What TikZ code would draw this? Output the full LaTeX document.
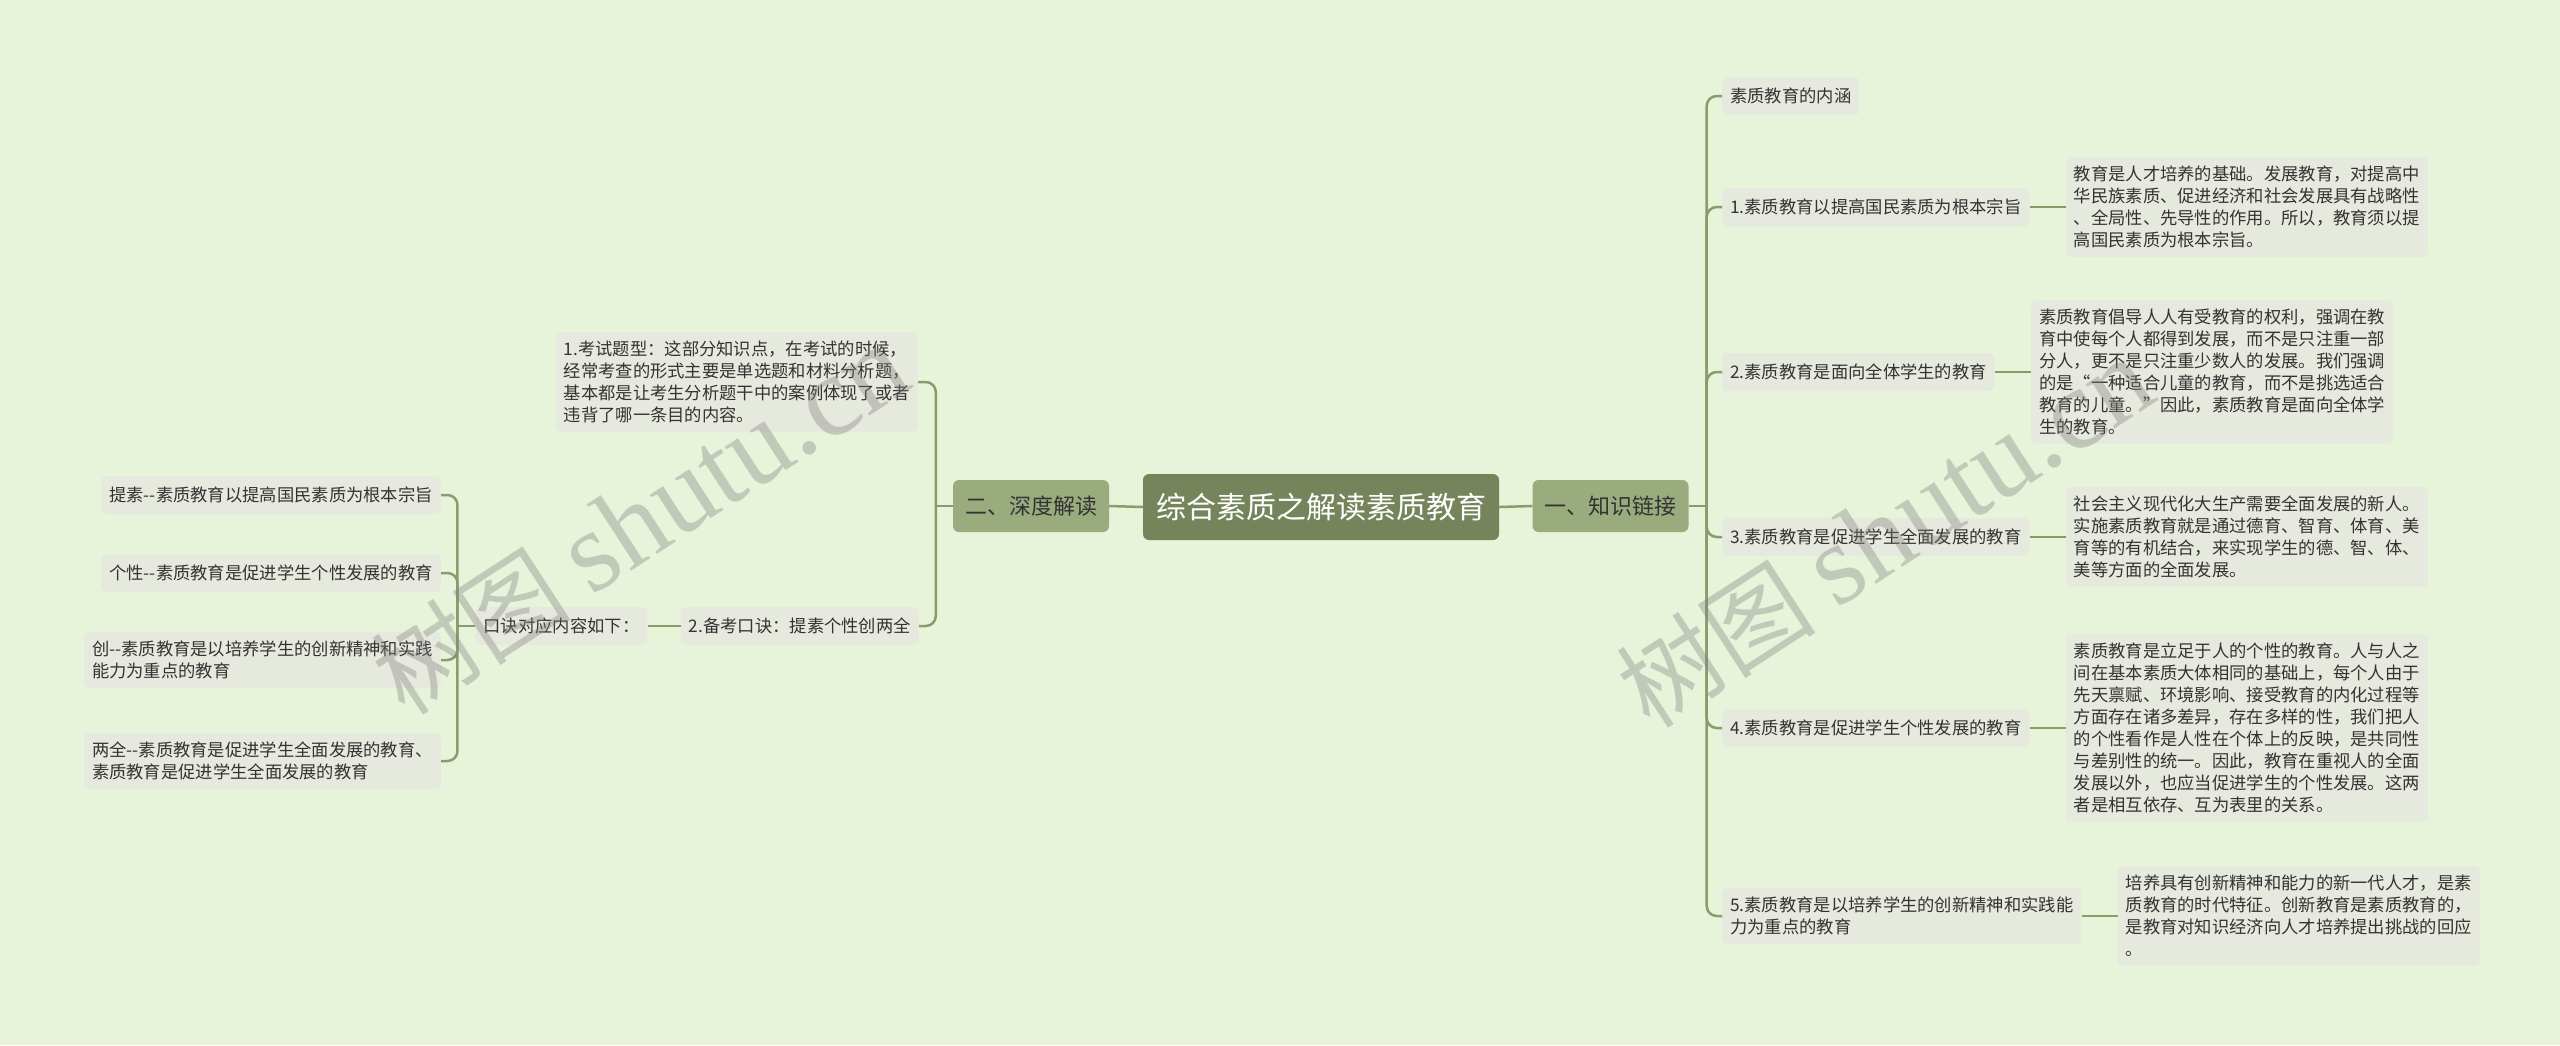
\documentclass[tikz,border=0pt]{standalone}
\usepackage{fontspec}
\setmainfont{Noto Sans CJK SC}[Ligatures=TeXOff]
\newfontfamily\wmlatin{Liberation Serif}
\usetikzlibrary{calc}
\definecolor{bgc}{HTML}{E7F4DA}
\definecolor{leafc}{HTML}{E6E9DD}
\definecolor{lvlc}{HTML}{9AAB7E}
\definecolor{rootc}{HTML}{75845A}
\definecolor{connc}{HTML}{8B9B6C}
\definecolor{txtc}{HTML}{333333}
\definecolor{wmc}{HTML}{808080}
\tikzset{
  leaf/.style={fill=leafc, rounded corners=5pt, inner xsep=8pt, inner ysep=9pt, align=left,
    font=\fontsize{17.3}{22}\selectfont, text=txtc, minimum height=38pt},
  lvlbox/.style={fill=lvlc, rounded corners=6pt, inner xsep=12pt, minimum height=52pt,
    font=\fontsize{22}{26}\selectfont, text=txtc},
  rootbox/.style={fill=rootc, rounded corners=6pt, inner xsep=13pt, minimum height=66pt,
    font=\fontsize{30}{34}\selectfont, text=white},
  conn/.style={draw=connc, line width=2.5pt, rounded corners=10pt},
  wm/.style={text=wmc, opacity=0.36, rotate=33, inner sep=0pt}
}
\begin{document}
\begin{tikzpicture}[x=1pt,y=-1pt]
\fill[bgc] (0,0) rectangle (2560,1045);
\useasboundingbox (0,0) rectangle (2560,1045);

% central
\node[rootbox] (root) at (1321,507) {综合素质之解读素质教育};
\node[lvlbox] (n1) at (1610.5,506) {一、知识链接};
\node[lvlbox] (n2) at (1031,506) {二、深度解读};

% right level 2
\node[leaf, anchor=west] (r0) at (1722,96) {素质教育的内涵};
\node[leaf, anchor=west] (r1) at (1722,207) {1.素质教育以提高国民素质为根本宗旨};
\node[leaf, anchor=west] (r2) at (1722,372) {2.素质教育是面向全体学生的教育};
\node[leaf, anchor=west] (r3) at (1722,537) {3.素质教育是促进学生全面发展的教育};
\node[leaf, anchor=west] (r4) at (1722,728) {4.素质教育是促进学生个性发展的教育};
\node[leaf, anchor=west] (r5) at (1722,916) {5.素质教育是以培养学生的创新精神和实践能\\力为重点的教育};

% right leaves
\node[leaf, anchor=west] (l1) at ($(r1.east)+(36,0)$) {教育是人才培养的基础。发展教育，对提高中\\华民族素质、促进经济和社会发展具有战略性\\、全局性、先导性的作用。所以，教育须以提\\高国民素质为根本宗旨。};
\node[leaf, anchor=west] (l2) at ($(r2.east)+(36,0)$) {素质教育倡导人人有受教育的权利，强调在教\\育中使每个人都得到发展，而不是只注重一部\\分人，更不是只注重少数人的发展。我们强调\\的是“一种适合儿童的教育，而不是挑选适合\\教育的儿童。”因此，素质教育是面向全体学\\生的教育。};
\node[leaf, anchor=west] (l3) at ($(r3.east)+(36,0)$) {社会主义现代化大生产需要全面发展的新人。\\实施素质教育就是通过德育、智育、体育、美\\育等的有机结合，来实现学生的德、智、体、\\美等方面的全面发展。};
\node[leaf, anchor=west] (l4) at ($(r4.east)+(36,0)$) {素质教育是立足于人的个性的教育。人与人之\\间在基本素质大体相同的基础上，每个人由于\\先天禀赋、环境影响、接受教育的内化过程等\\方面存在诸多差异，存在多样的性，我们把人\\的个性看作是人性在个体上的反映，是共同性\\与差别性的统一。因此，教育在重视人的全面\\发展以外，也应当促进学生的个性发展。这两\\者是相互依存、互为表里的关系。};
\node[leaf, anchor=west] (l5) at ($(r5.east)+(36,0)$) {培养具有创新精神和能力的新一代人才，是素\\质教育的时代特征。创新教育是素质教育的，\\是教育对知识经济向人才培养提出挑战的回应\\。};

% left side
\node[leaf, anchor=east] (a1) at (918,382) {1.考试题型：这部分知识点，在考试的时候，\\经常考查的形式主要是单选题和材料分析题，\\基本都是让考生分析题干中的案例体现了或者\\违背了哪一条目的内容。};
\node[leaf, anchor=east] (a2) at (919,626) {2.备考口诀：提素个性创两全};
\node[leaf, anchor=east] (k) at ($(a2.west)+(-33,0)$) {口诀对应内容如下：};
\node[leaf, anchor=east] (p1) at (441,495) {提素--素质教育以提高国民素质为根本宗旨};
\node[leaf, anchor=east] (p2) at (441,573) {个性--素质教育是促进学生个性发展的教育};
\node[leaf, anchor=east] (p3) at (441,660) {创--素质教育是以培养学生的创新精神和实践\\能力为重点的教育};
\node[leaf, anchor=east] (p4) at (441,761) {两全--素质教育是促进学生全面发展的教育、\\素质教育是促进学生全面发展的教育};

% connectors
\draw[conn] (root.west) -- (n2.east);
\draw[conn] (root.east) -- (n1.west);
\coordinate (tR) at ($(n1.east)+(18,0)$);
\draw[conn] (n1.east) -- (tR);
\foreach \c in {r0,r1,r2,r3,r4,r5} \draw[conn] (tR) |- (\c.west);
\draw[conn] (r1.east) -- (l1.west);
\draw[conn] (r2.east) -- (l2.west);
\draw[conn] (r3.east) -- (l3.west);
\draw[conn] (r4.east) -- (l4.west);
\draw[conn] (r5.east) -- (l5.west);
\coordinate (tL) at ($(n2.west)+(-17,0)$);
\draw[conn] (n2.west) -- (tL);
\draw[conn] (tL) |- (a1.east);
\draw[conn] (tL) |- (a2.east);
\draw[conn] (a2.west) -- (k.east);
\coordinate (tK) at ($(k.west)+(-18,0)$);
\draw[conn] (k.west) -- (tK);
\foreach \c in {p1,p2,p3,p4} \draw[conn] (tK) |- (\c.east);

% watermarks
\node[wm] (wm1) at (640,520) {\fontsize{100}{100}\selectfont 树图 {\wmlatin\fontsize{115}{115}\selectfont shutu.cn}};
\node[wm] (wm2) at (1885,533) {\fontsize{100}{100}\selectfont 树图 {\wmlatin\fontsize{115}{115}\selectfont shutu.cn}};
\end{tikzpicture}
\end{document}
